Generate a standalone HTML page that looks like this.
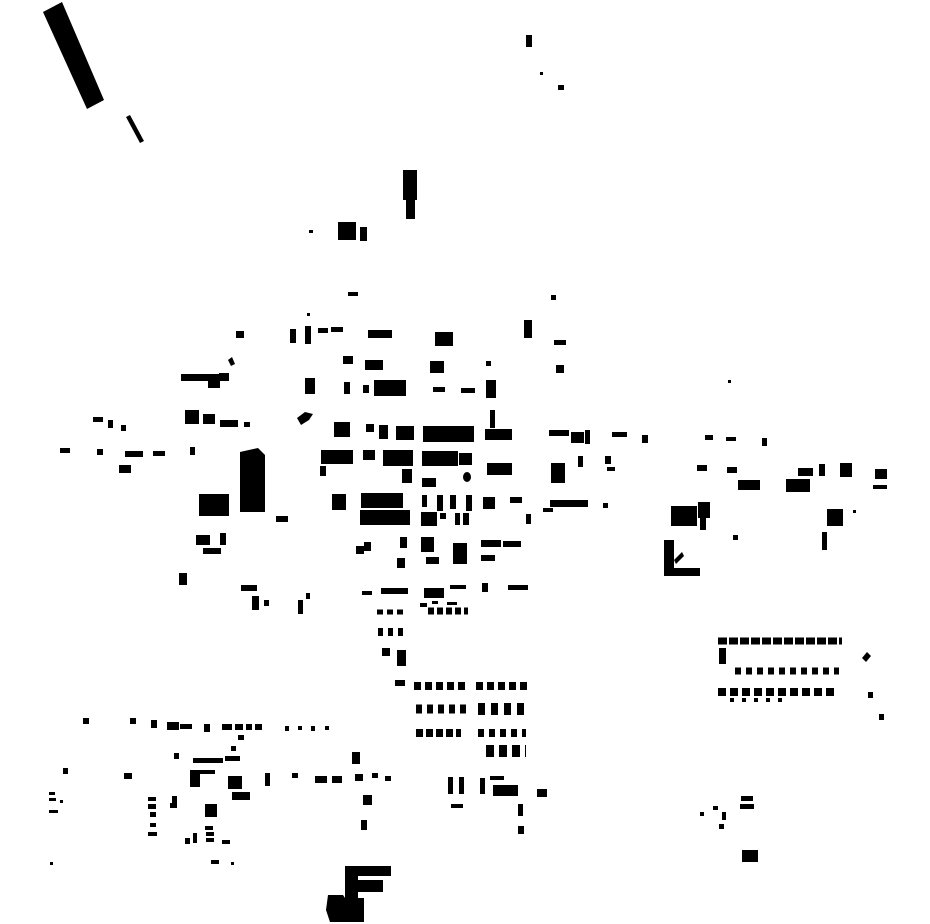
<!DOCTYPE html>
<html><head><meta charset="utf-8"><style>html,body{margin:0;padding:0;background:#fff}svg{display:block}</style></head><body>
<svg width="930" height="924" viewBox="0 0 930 924" xmlns="http://www.w3.org/2000/svg" fill="#000">
<polygon points="43,12 62,2 104,100 87,109"/>
<polygon points="126,117 130,115 144,141 140,143"/>
<rect x="526" y="35" width="6" height="12"/><rect x="540" y="72" width="3" height="3"/><rect x="558" y="85" width="6" height="5"/>
<rect x="403" y="170" width="14" height="30"/><rect x="406" y="200" width="9" height="19"/>
<rect x="338" y="222" width="18" height="18"/><rect x="360" y="227" width="7" height="14"/><rect x="309" y="230" width="4" height="3"/>
<rect x="348" y="292" width="10" height="4"/><rect x="551" y="295" width="5" height="5"/>
<rect x="236" y="331" width="8" height="7"/><rect x="290" y="329" width="6" height="14"/><rect x="305" y="326" width="6" height="18"/><rect x="318" y="328" width="10" height="5"/><rect x="331" y="327" width="12" height="5"/><rect x="368" y="330" width="24" height="8"/><rect x="435" y="332" width="18" height="14"/><rect x="524" y="320" width="8" height="18"/><rect x="554" y="340" width="12" height="5"/><rect x="307" y="313" width="3" height="3"/>
<rect x="343" y="356" width="10" height="8"/><rect x="365" y="360" width="18" height="10"/><rect x="430" y="361" width="14" height="12"/><rect x="486" y="361" width="5" height="5"/><rect x="556" y="365" width="8" height="8"/><polygon points="228,360 232,357 235,364 231,366"/>
<rect x="181" y="374" width="45" height="7"/><rect x="208" y="376" width="12" height="12"/><rect x="219" y="373" width="10" height="8"/>
<rect x="305" y="378" width="10" height="16"/><rect x="344" y="382" width="6" height="12"/><rect x="363" y="385" width="6" height="8"/><rect x="374" y="380" width="32" height="16"/><rect x="433" y="387" width="12" height="5"/><rect x="461" y="388" width="14" height="5"/><rect x="486" y="380" width="10" height="18"/><rect x="728" y="380" width="3" height="3"/>
<rect x="185" y="410" width="14" height="14"/><rect x="203" y="414" width="12" height="10"/><rect x="220" y="420" width="18" height="7"/><rect x="244" y="422" width="6" height="5"/><rect x="93" y="417" width="10" height="5"/><rect x="108" y="420" width="5" height="8"/><rect x="121" y="425" width="5" height="6"/>
<polygon points="297,418 305,412 313,414 309,420 301,425"/><rect x="334" y="422" width="16" height="15"/><rect x="366" y="424" width="8" height="8"/><rect x="379" y="425" width="9" height="14"/><rect x="396" y="426" width="18" height="14"/><rect x="423" y="426" width="51" height="16"/><rect x="485" y="429" width="27" height="11"/><rect x="490" y="410" width="5" height="18"/>
<rect x="549" y="430" width="20" height="6"/><rect x="571" y="432" width="13" height="11"/><rect x="585" y="430" width="5" height="14"/><rect x="612" y="432" width="15" height="5"/><rect x="642" y="435" width="6" height="8"/><rect x="705" y="435" width="8" height="5"/><rect x="726" y="437" width="10" height="4"/><rect x="762" y="438" width="5" height="8"/>
<rect x="60" y="448" width="10" height="5"/><rect x="97" y="449" width="6" height="6"/><rect x="125" y="451" width="18" height="6"/><rect x="153" y="451" width="12" height="5"/><rect x="190" y="447" width="5" height="8"/><rect x="119" y="465" width="12" height="8"/>
<polygon points="240,452 258,448 265,455 265,512 240,512"/>
<rect x="321" y="450" width="32" height="14"/><rect x="320" y="466" width="6" height="10"/><rect x="363" y="450" width="12" height="10"/><rect x="383" y="450" width="30" height="16"/><rect x="422" y="451" width="36" height="15"/><rect x="459" y="453" width="13" height="12"/><rect x="487" y="463" width="25" height="12"/><rect x="551" y="463" width="14" height="20"/><rect x="578" y="456" width="5" height="11"/><rect x="605" y="456" width="6" height="8"/><rect x="607" y="467" width="8" height="4"/>
<rect x="402" y="469" width="10" height="14"/><rect x="422" y="478" width="14" height="9"/><ellipse cx="467" cy="477" rx="4" ry="5"/>
<rect x="697" y="465" width="10" height="6"/><rect x="727" y="467" width="10" height="6"/><rect x="738" y="480" width="22" height="10"/><rect x="786" y="479" width="24" height="13"/><rect x="798" y="468" width="15" height="8"/><rect x="819" y="464" width="6" height="12"/><rect x="840" y="463" width="12" height="14"/><rect x="875" y="469" width="12" height="10"/><rect x="873" y="485" width="14" height="4"/>
<rect x="199" y="494" width="30" height="22"/><rect x="276" y="516" width="12" height="6"/><rect x="332" y="494" width="14" height="16"/><rect x="361" y="493" width="42" height="15"/><rect x="360" y="510" width="50" height="15"/><rect x="422" y="495" width="5" height="12"/><rect x="437" y="495" width="6" height="16"/><rect x="450" y="495" width="6" height="14"/><rect x="466" y="495" width="6" height="16"/><rect x="483" y="497" width="12" height="12"/><rect x="510" y="497" width="12" height="6"/><rect x="526" y="514" width="5" height="10"/><rect x="550" y="500" width="38" height="7"/><rect x="543" y="508" width="10" height="4"/><rect x="603" y="503" width="5" height="5"/>
<rect x="421" y="512" width="16" height="14"/><rect x="440" y="513" width="6" height="6"/><rect x="455" y="513" width="5" height="12"/><rect x="463" y="513" width="6" height="12"/>
<rect x="671" y="506" width="26" height="20"/><rect x="698" y="502" width="12" height="16"/><rect x="700" y="518" width="6" height="12"/><rect x="664" y="540" width="10" height="35"/><rect x="664" y="568" width="36" height="8"/><polygon points="674,560 682,552 684,556 676,564"/>
<rect x="827" y="509" width="16" height="17"/><rect x="853" y="510" width="3" height="3"/><rect x="822" y="532" width="5" height="18"/><rect x="733" y="535" width="5" height="5"/>
<rect x="196" y="535" width="14" height="10"/><rect x="220" y="533" width="6" height="12"/><rect x="203" y="548" width="18" height="6"/>
<polygon points="356,546 364,546 364,542 371,542 371,551 364,551 364,554 356,554"/><rect x="400" y="537" width="7" height="11"/><rect x="421" y="537" width="13" height="15"/><rect x="453" y="543" width="14" height="21"/><rect x="426" y="557" width="13" height="7"/><rect x="397" y="558" width="8" height="10"/><rect x="481" y="540" width="20" height="7"/><rect x="503" y="541" width="18" height="6"/><rect x="481" y="555" width="14" height="6"/>
<rect x="179" y="573" width="8" height="12"/><rect x="241" y="585" width="16" height="6"/><rect x="252" y="596" width="7" height="14"/><rect x="264" y="600" width="5" height="6"/><rect x="298" y="600" width="5" height="14"/><rect x="306" y="593" width="4" height="6"/>
<rect x="362" y="591" width="10" height="4"/><rect x="381" y="588" width="27" height="6"/><rect x="424" y="588" width="20" height="10"/><rect x="450" y="585" width="16" height="4"/><rect x="482" y="583" width="6" height="9"/><rect x="508" y="585" width="20" height="5"/>
<rect x="420" y="603" width="7" height="4"/><rect x="432" y="601" width="6" height="3"/><rect x="447" y="602" width="10" height="3"/>
<g stroke="#000" fill="none">
<line x1="428" y1="611" x2="468" y2="611" stroke-width="7" stroke-dasharray="6,3"/>
<line x1="377" y1="612" x2="407" y2="612" stroke-width="5" stroke-dasharray="6,4"/>
<line x1="378" y1="632" x2="406" y2="632" stroke-width="8" stroke-dasharray="5,5"/>
<line x1="718" y1="641" x2="842" y2="641" stroke-width="7" stroke-dasharray="9,2"/>
<line x1="735" y1="671" x2="839" y2="671" stroke-width="7" stroke-dasharray="6,5"/>
<line x1="718" y1="692" x2="836" y2="692" stroke-width="8" stroke-dasharray="8,4"/>
<line x1="730" y1="700" x2="790" y2="700" stroke-width="4" stroke-dasharray="4,8"/>
<line x1="414" y1="686" x2="469" y2="686" stroke-width="8" stroke-dasharray="7,4"/>
<line x1="476" y1="686" x2="528" y2="686" stroke-width="8" stroke-dasharray="7,4"/>
<line x1="416" y1="709" x2="466" y2="709" stroke-width="9" stroke-dasharray="6,5"/>
<line x1="478" y1="709" x2="528" y2="709" stroke-width="12" stroke-dasharray="7,6"/>
<line x1="416" y1="733" x2="461" y2="733" stroke-width="8" stroke-dasharray="7,3"/>
<line x1="478" y1="733" x2="526" y2="733" stroke-width="8" stroke-dasharray="6,5"/>
<line x1="486" y1="751" x2="526" y2="751" stroke-width="12" stroke-dasharray="8,5"/>
</g>
<rect x="719" y="648" width="7" height="16"/><polygon points="862,658 867,652 871,656 866,662"/><rect x="868" y="692" width="5" height="6"/><rect x="879" y="714" width="5" height="6"/>
<rect x="382" y="648" width="8" height="8"/><rect x="397" y="650" width="9" height="16"/>
<rect x="395" y="680" width="10" height="6"/>
<rect x="83" y="718" width="6" height="6"/><rect x="130" y="718" width="6" height="6"/><rect x="151" y="720" width="6" height="8"/><rect x="167" y="722" width="12" height="8"/><rect x="180" y="724" width="12" height="5"/><rect x="204" y="724" width="6" height="8"/><rect x="222" y="724" width="10" height="6"/><rect x="235" y="724" width="8" height="6"/><rect x="246" y="724" width="6" height="6"/><rect x="255" y="724" width="7" height="6"/><rect x="238" y="735" width="6" height="5"/><rect x="285" y="726" width="4" height="5"/><rect x="298" y="726" width="4" height="4"/><rect x="311" y="726" width="4" height="5"/><rect x="325" y="726" width="4" height="4"/>
<rect x="174" y="753" width="5" height="6"/><rect x="193" y="758" width="30" height="5"/><rect x="231" y="746" width="5" height="5"/><rect x="225" y="756" width="15" height="5"/><rect x="352" y="752" width="8" height="12"/>
<rect x="63" y="768" width="5" height="6"/><rect x="124" y="773" width="8" height="6"/><polygon points="190,770 215,770 215,774 200,774 200,787 190,787"/><rect x="228" y="776" width="14" height="13"/><rect x="232" y="792" width="18" height="8"/><rect x="265" y="773" width="5" height="13"/><rect x="292" y="773" width="6" height="5"/><rect x="315" y="776" width="12" height="7"/><rect x="332" y="776" width="10" height="7"/><rect x="355" y="774" width="8" height="7"/><rect x="372" y="773" width="6" height="5"/><rect x="385" y="776" width="6" height="5"/>
<rect x="448" y="777" width="5" height="17"/><rect x="459" y="777" width="5" height="17"/><rect x="480" y="778" width="5" height="16"/><rect x="490" y="776" width="14" height="4"/><rect x="493" y="785" width="25" height="11"/><rect x="537" y="789" width="10" height="8"/><rect x="451" y="804" width="12" height="4"/><rect x="363" y="795" width="9" height="10"/><rect x="518" y="804" width="5" height="12"/><rect x="518" y="826" width="6" height="8"/>
<rect x="49" y="792" width="6" height="3"/><rect x="49" y="798" width="7" height="3"/><rect x="49" y="810" width="9" height="3"/><rect x="60" y="800" width="3" height="3"/>
<rect x="148" y="797" width="8" height="4"/><rect x="148" y="804" width="8" height="5"/><rect x="150" y="812" width="6" height="5"/><rect x="150" y="823" width="6" height="4"/><rect x="148" y="832" width="9" height="4"/><rect x="172" y="796" width="5" height="12"/><rect x="170" y="803" width="5" height="5"/><rect x="205" y="804" width="12" height="13"/><rect x="185" y="838" width="5" height="6"/><rect x="193" y="833" width="4" height="10"/><rect x="205" y="826" width="8" height="4"/><rect x="206" y="832" width="8" height="4"/><rect x="206" y="838" width="8" height="4"/><rect x="222" y="840" width="8" height="4"/><rect x="211" y="860" width="8" height="4"/><rect x="231" y="862" width="3" height="3"/><rect x="50" y="862" width="3" height="3"/><rect x="361" y="820" width="6" height="10"/>
<rect x="700" y="812" width="4" height="4"/><rect x="713" y="806" width="5" height="4"/><rect x="722" y="812" width="4" height="8"/><rect x="719" y="824" width="5" height="5"/><rect x="741" y="796" width="12" height="5"/><rect x="740" y="804" width="14" height="5"/><rect x="742" y="850" width="16" height="12"/>
<rect x="348" y="866" width="43" height="10"/><rect x="345" y="866" width="13" height="44"/><rect x="345" y="880" width="38" height="12"/><polygon points="328,895 343,895 345,898 364,898 364,922 330,922 326,910"/>
</svg>
</body></html>
